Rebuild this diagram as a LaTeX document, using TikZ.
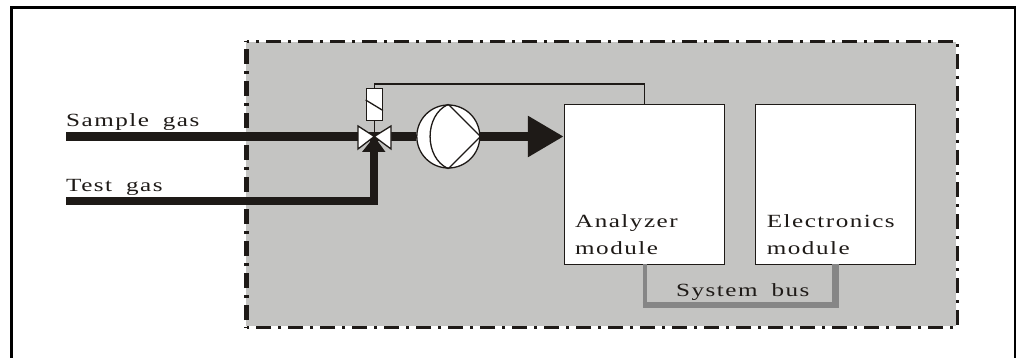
\documentclass[tikz,border=0pt]{standalone}
\usepackage{xcolor}
\usepackage{fontspec}
\setmainfont[FakeStretch=1.35,LetterSpace=8,WordSpace=1.8]{Liberation Serif}
\usepackage{tikz}
\usetikzlibrary{arrows.meta}
\definecolor{panelgray}{HTML}{C4C4C2}
\definecolor{busgray}{HTML}{868686}
\definecolor{inkblack}{HTML}{1E1A17}
\tikzset{
    module/.style={draw=inkblack, fill=white, line width=1.3pt, rectangle, minimum width=160pt, minimum height=160pt, inner sep=0pt},
    gasline/.style={draw=inkblack, line width=9pt},
    thinline/.style={draw=inkblack, line width=1.3pt},
    valvepart/.style={thinline, fill=white, line join=miter},
    busline/.style={draw=busgray, line width=5pt},
    panelborder/.style={draw=inkblack, line width=3pt, dash pattern=on 15pt off 7pt on 3pt off 7pt},
    caption/.style={inner sep=0pt, anchor=base west, text=inkblack, font=\fontsize{18.6}{27.5}\selectfont},
    captionblock/.style={caption, anchor=south west, align=left},
}
\begin{document}
\begin{tikzpicture}[x=1pt, y=-1pt]
    \useasboundingbox (0,0) rectangle (1016,358);
    \fill[white] (0,0) rectangle (1016,358);
    \draw[line width=3pt] (11.5,358) -- (11.5,7.5) -- (1015.5,7.5) -- (1015.5,358);
    \fill[panelgray] (246,42) rectangle (956,326);
    \draw[panelborder, dash phase=12.5pt] (246.5,41.5) -- (957.5,41.5) -- (957.5,327.5) -- (246.5,327.5);
    \draw[panelborder, line width=5pt, dash phase=24.5pt] (246.5,327.5) -- (246.5,41.5);

    \node[module] (analyzer) at (644.4,184.2) {};
    \node[module] (electronics) at (835.5,184.2) {};
    \node[thinline, draw, fill=white, rectangle, minimum width=16pt, minimum height=32pt, inner sep=0pt] (solenoid) at (374.3,104.3) {};
    \node[thinline, draw, fill=white, circle, minimum size=63pt, inner sep=0pt] (pump) at (448.3,136.5) {};
    \coordinate (valve) at (374.3,136.5);
    \coordinate (samplein) at (66,136.5);
    \coordinate (testin) at (66,200.5);
    \coordinate (busleft) at (644.7,264);
    \coordinate (busright) at (835.3,264);

    \draw[gasline] (samplein) -- (valve) -- (pump);
    \draw[gasline, line width=8pt] (testin) -| (valve);
    \draw[gasline, -{Triangle[length=36pt, width=39pt]}] (pump.east) -- (analyzer.west |- pump.east);
    \draw[thinline] (solenoid.south) -- (valve);
    \draw[thinline] (solenoid.north) -- ++(0,-3.5) -| (analyzer.north);
    \draw[thinline] (solenoid.west |- 0,100) -- (solenoid.east |- 0,110.5);

    % valve
    \draw[valvepart] (valve) -- (358,126) -- (358,149) -- cycle;
    \draw[valvepart] (valve) -- (391,126) -- (391,149) -- cycle;
    \fill[inkblack] (valve) -- (362,152) -- (385.5,152) -- cycle;

    % pump
    \draw[thinline] (pump.north) -- (pump.east) -- (pump.south);
    \draw[thinline] (pump.north) .. controls (424,115) and (424,158) .. (pump.south);

    % bus
    \draw[busline, line width=4pt] (busleft) -- (644.7,305);
    \draw[busline, line width=6.5pt] (busright) -- (835.3,305);
    \draw[busline, line width=6pt] (642.7,305) -- (838.6,305);

    \node[caption] (samplelabel) at (66,127) {Sample gas};
    \node[caption] (testlabel) at (66,191.7) {Test gas};
    \node[captionblock] (analyzerlabel) at (575,255) {Analyzer\\module};
    \node[captionblock] (electronicslabel) at (766.7,255) {Electronics\\module};
    \node[caption] (buslabel) at (676,296) {System bus};
\end{tikzpicture}
\end{document}
